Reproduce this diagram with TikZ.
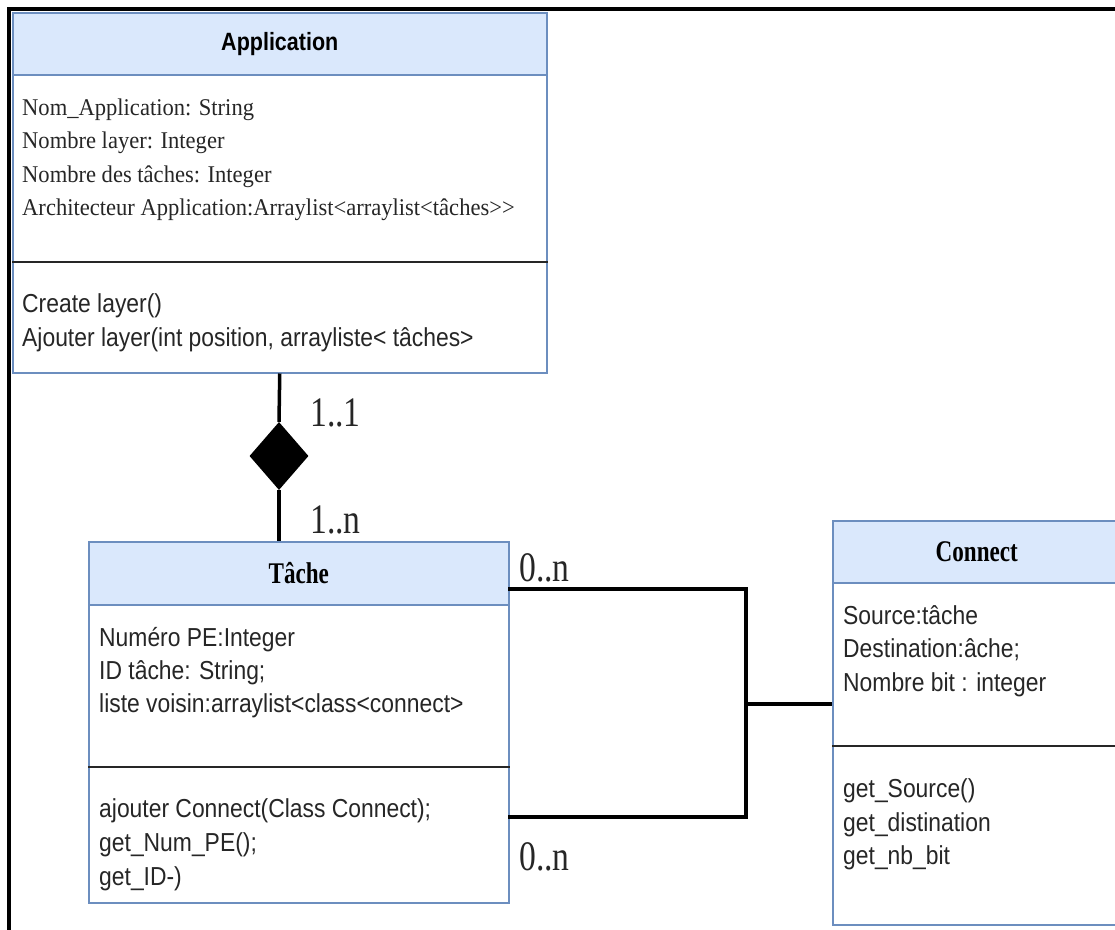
\documentclass[tikz,border=0pt]{standalone}
\usepackage{fontspec}
\setmainfont{Liberation Serif}
\newfontfamily\umlsans[FakeStretch=0.88]{Liberation Sans}
\newfontfamily\umlsanshead[FakeStretch=0.86]{Liberation Sans}
\newfontfamily\umlserif[FakeStretch=0.94]{Liberation Serif}
\newfontfamily\umlhead[FakeStretch=0.77]{Liberation Serif}
\newfontfamily\umlmult[FakeStretch=0.8]{Liberation Serif}
\usetikzlibrary{shapes.geometric,calc}
\definecolor{hdrfill}{HTML}{DAE8FC}
\definecolor{hdrline}{HTML}{6C8EBF}
\begin{document}
\begin{tikzpicture}[x=1pt,y=-1pt,
 hdr/.style={draw=hdrline, fill=hdrfill, line width=1.5pt, anchor=north west, inner sep=0pt, text=black},
 body/.style={draw=hdrline, line width=1.5pt, anchor=north west, inner sep=0pt},
 divider/.style={draw=black!85, line width=2pt},
 sanstxt/.style={anchor=base west, inner sep=0pt, font=\umlsans\fontsize{26}{30}\selectfont, text=black!85},
 seriftxt/.style={anchor=base west, inner sep=0pt, font=\umlserif\fontsize{24}{28}\selectfont, text=black!85},
 mult/.style={anchor=base west, inner sep=0pt, font=\umlmult\fontsize{42}{46}\selectfont, text=black!85},
 link/.style={draw=black, line width=3.5pt},
 frameline/.style={draw=black, line width=4.5pt}]
\useasboundingbox (0,0) rectangle (1115,929);
\clip (0,0) rectangle (1115,929);
\fill[white] (0,0) rectangle (1115,929);
% frame
\draw[frameline] (9,935) -- (9,9) -- (1120,9);

% Application
\node[hdr, minimum width=534pt, minimum height=62pt, font=\umlsanshead\bfseries\fontsize{25}{28}\selectfont] (aphdr) at (12,12) {Application};
\node[body, minimum width=534pt, minimum height=298pt] (apbody) at (12,74) {};
\draw[divider] (apbody.west |- 0,262) -- (apbody.east |- 0,262);
\foreach \t [count=\i] in {Nom\_Application: String, Nombre layer: Integer, Nombre des tâches: Integer, Architecteur Application:Arraylist<arraylist<tâches>>}
  \node[seriftxt] (apattr\i) at (22,{115.5+33.4*(\i-1)}) {\t};
\node[sanstxt] (apmeth1) at (22,312) {Create layer()};
\node[sanstxt] (apmeth2) at (22,346) {Ajouter layer(int position, arrayliste< tâches>};

% Tache
\node[hdr, minimum width=420pt, minimum height=63pt, font=\umlhead\bfseries\fontsize{30}{32}\selectfont] (tahdr) at (88,541) {Tâche};
\node[body, minimum width=420pt, minimum height=298pt] (tabody) at (88,604) {};
\draw[divider] (tabody.west |- 0,767) -- (tabody.east |- 0,767);
\node[sanstxt] (taattr1) at (99,646) {Numéro PE:Integer};
\node[sanstxt] (taattr2) at (99,679) {ID tâche: String;};
\node[sanstxt] (taattr3) at (99,712) {liste voisin:arraylist<class<connect>};
\node[sanstxt] (tameth1) at (99,817) {ajouter Connect(Class Connect);};
\node[sanstxt] (tameth2) at (99,851) {get\_Num\_PE();};
\node[sanstxt] (tameth3) at (99,885) {get\_ID-)};

% Connect
\node[hdr, minimum width=288pt, minimum height=62pt, font=\umlhead\bfseries\fontsize{30}{32}\selectfont] (cnhdr) at (832,520) {Connect};
\node[body, minimum width=288pt, minimum height=342pt] (cnbody) at (832,582) {};
\draw[divider] (cnbody.west |- 0,746) -- (cnbody.east |- 0,746);
\node[sanstxt] (cnattr1) at (843,624) {Source:tâche};
\node[sanstxt] (cnattr2) at (843,657) {Destination:âche;};
\node[sanstxt] (cnattr3) at (843,691) {Nombre bit : integer};
\node[sanstxt] (cnmeth1) at (843,797) {get\_Source()};
\node[sanstxt] (cnmeth2) at (843,831) {get\_distination};
\node[sanstxt] (cnmeth3) at (843,864) {get\_nb\_bit};

% composition
\node[diamond, fill=black, minimum width=59pt, minimum height=68pt, inner sep=0pt] (comp) at (279,456) {};
\draw[link] (apbody.south) -- (comp.north);
\draw[link] (comp.south) -- (comp.south |- tahdr.north);
\node[mult] (m11) at (310,426) {1..1};
\node[mult] (m1n) at (310,533) {1..n};

% association
\coordinate (t1) at (508,589);
\coordinate (t2) at (508,817);
\coordinate (jn) at (746,704);
\draw[link] (t1) -| (jn) |- (t2);
\draw[link] (jn) -- (jn -| cnbody.west);
\node[mult] (m0a) at (519,581) {0..n};
\node[mult] (m0b) at (519,870) {0..n};
\end{tikzpicture}
\end{document}
